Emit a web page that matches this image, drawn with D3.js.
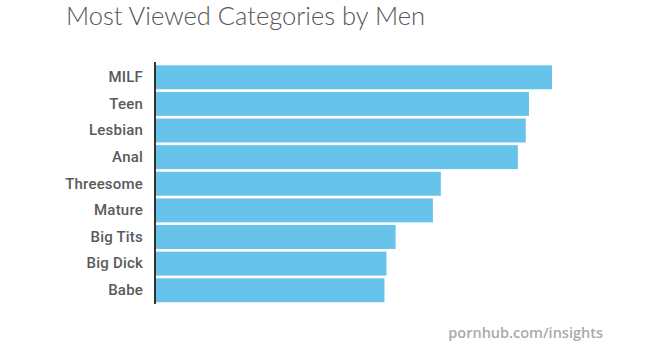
<!DOCTYPE html>
<html><head><meta charset="utf-8">
<script src="https://cdn.jsdelivr.net/npm/d3@7"></script>
<style>body{margin:0;background:#fff}svg{display:block}</style>
</head><body>
<svg id="c" width="660" height="364"></svg>
<script>
const categories = ["MILF","Teen","Lesbian","Anal","Threesome","Mature","Big Tits","Big Dick","Babe"];
const values = [100, 94.2, 93.4, 91.4, 72.0, 70.0, 60.6, 58.3, 57.8];
const title = "Most Viewed Categories by Men";
const source = "pornhub.com/insights";

const svg = d3.select("#c");
const x0 = 155;
const x = d3.scaleLinear().domain([0, 100]).range([x0, 552]);
const y = d3.scaleBand().domain(categories).range([64.5, 303]).paddingInner(0.1).paddingOuter(0.03);

svg.append("text").attr("x", 66).attr("y", 25).attr("fill", "#555")
  .style("font-family", "Lato").style("font-weight", 300).style("font-size", "25.5px").text(title);

svg.selectAll("rect.bar").data(categories).join("rect").attr("class","bar")
  .attr("x", x(0)).attr("y", d => y(d))
  .attr("width", (d,i) => x(values[i]) - x(0)).attr("height", y.bandwidth())
  .attr("fill", "#68c3ea");

const ax = svg.append("g").attr("transform", `translate(${x0},0)`)
  .call(d3.axisLeft(y).tickSize(0).tickPadding(12));
ax.select(".domain").attr("stroke", "#333").attr("stroke-width", 2).attr("d", "M0,62V304");
ax.selectAll("text").attr("fill", "#5a5a5a").style("font-family", "Roboto").style("font-weight", 500)
  .style("font-size", "15px").style("letter-spacing", "0.2px");

svg.append("text").attr("x", 603).attr("y", 338).attr("text-anchor", "end").attr("fill", "#aaa")
  .style("font-family", "Open Sans").style("font-weight", 600).style("font-size", "14.5px").text(source);
</script>
</body></html>
